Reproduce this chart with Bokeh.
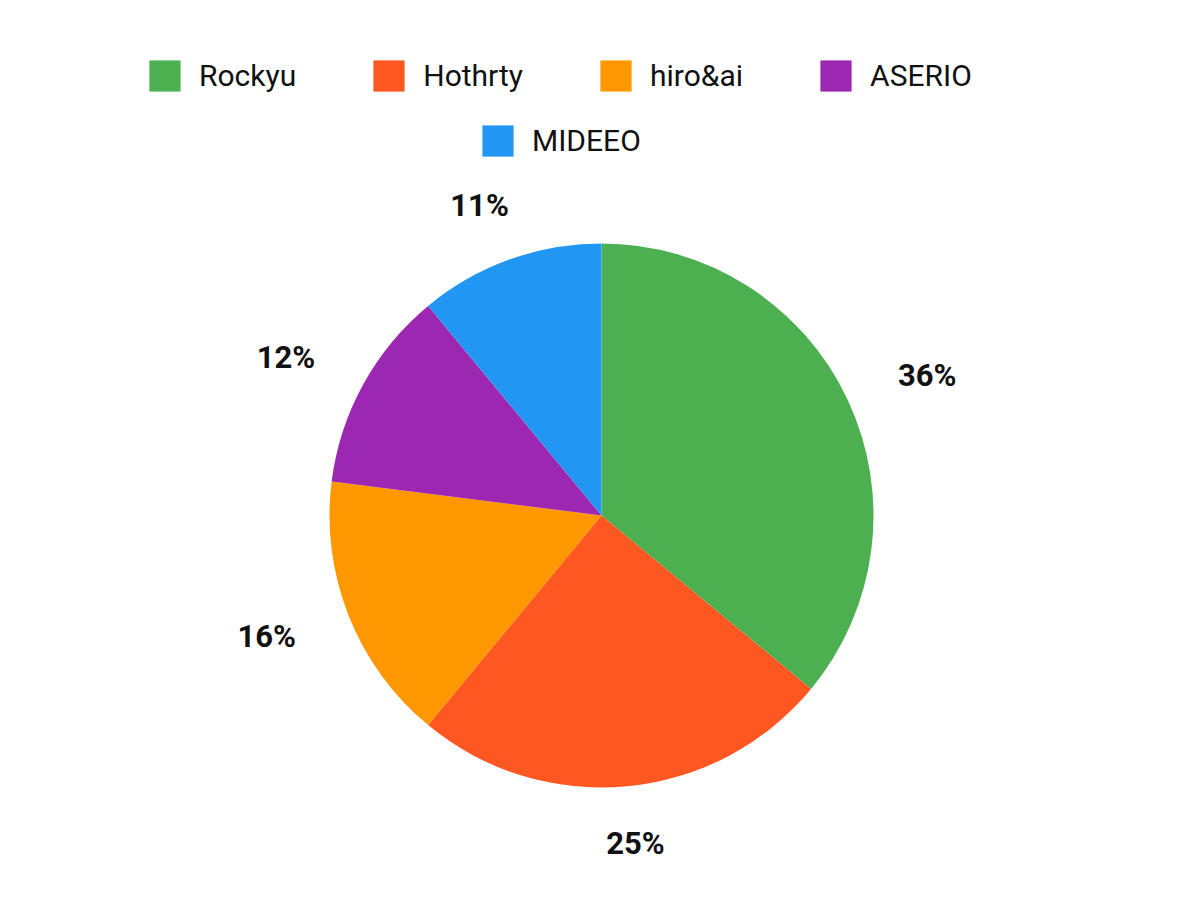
import numpy as np

from bokeh.plotting import figure
from bokeh.models import ColumnDataSource, Range1d, Legend, LegendItem
from bokeh.core.properties import value
from bokeh.embed import file_html
from bokeh.resources import INLINE

names = ["Rockyu", "Hothrty", "hiro&ai", "ASERIO", "MIDEEO"]
shares = [36, 25, 16, 12, 11]
colors = ["#4CAF50", "#FF5722", "#FF9800", "#9C27B0", "#2196F3"]

W, H = 1184, 884
cx, cy = 601, H - 515
R = 272

frac = np.array(shares) / sum(shares)
cum = np.concatenate([[0], np.cumsum(frac)])
start = np.pi / 2 - 2 * np.pi * cum[:-1]
end = np.pi / 2 - 2 * np.pi * cum[1:]
mid = 2 * np.pi * (cum[:-1] + cum[1:]) / 2

src = ColumnDataSource(dict(
    start=start, end=end, color=colors, name=names,
    lx=cx + 360 * np.sin(mid),
    ly=cy + 329 * np.cos(mid),
    label=["%d%%" % s for s in shares],
))

p = figure(width=W, height=H, output_backend="svg", toolbar_location=None,
           x_range=Range1d(0, W), y_range=Range1d(0, H), min_border=0)
p.axis.visible = False
p.grid.visible = False
p.outline_line_color = None

p.wedge(x=cx, y=cy, radius=R, start_angle="start", end_angle="end",
        direction="clock", fill_color="color", line_color=None, source=src)

p.text(x="lx", y="ly", text="label", source=src,
       text_font=value("Roboto"), text_font_style="bold",
       text_font_size="31px", text_color="#111111",
       text_align="center", text_baseline="middle")

# legend swatches (proxy renderers, nothing drawn on the plot)
items = []
for n, c in zip(names, colors):
    r = p.quad(left=[np.nan], right=[np.nan], top=[np.nan], bottom=[np.nan],
               fill_color=c, line_color=None)
    items.append(LegendItem(label=n, renderers=[r]))


def make_legend(its, loc):
    lg = Legend(items=its, location=loc, orientation="horizontal",
                glyph_width=39, glyph_height=39, label_standoff=15,
                spacing=73, padding=0, margin=0,
                border_line_color=None, background_fill_alpha=0,
                label_text_font="Roboto", label_text_font_size="30px",
                label_text_color="#111111")
    return lg


p.add_layout(make_legend(items[:4], (145, H - 56 - 39)), "center")
p.add_layout(make_legend(items[4:], (478, H - 121 - 39)), "center")

open("out.html", "w").write(file_html(p, INLINE))
